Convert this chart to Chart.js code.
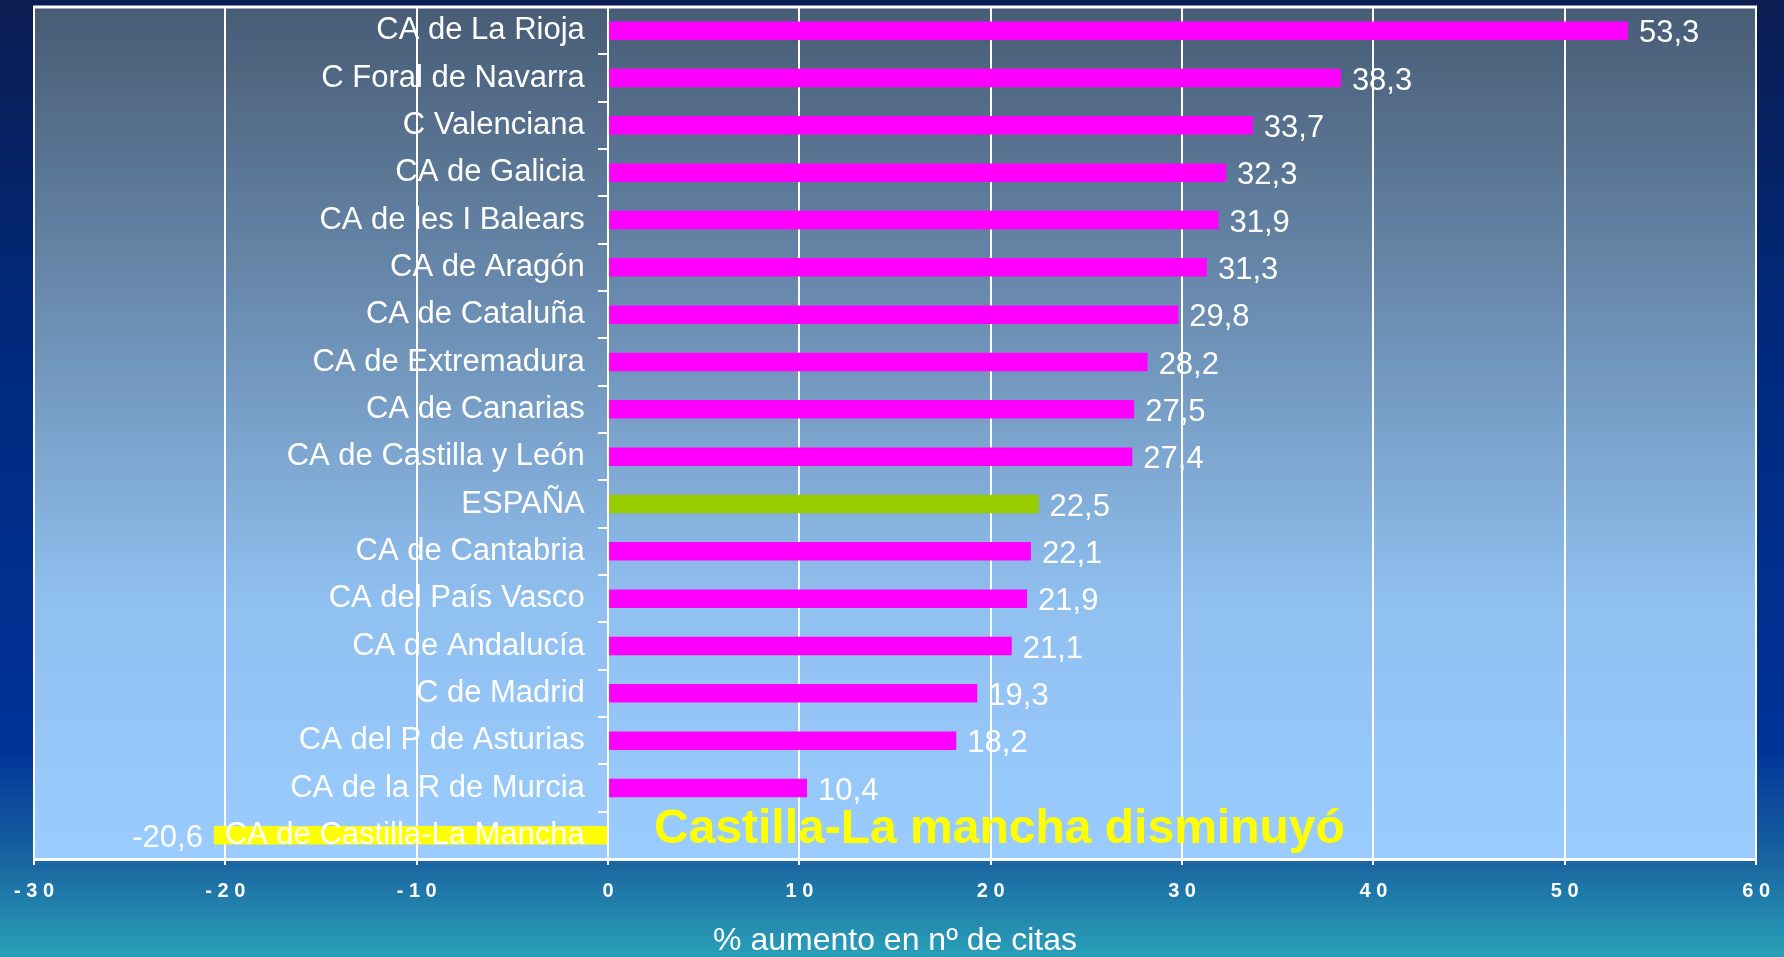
<!DOCTYPE html>
<html>
<head>
<meta charset="utf-8">
<script src="https://cdn.jsdelivr.net/npm/chart.js@4"></script>
<style>
  html, body { margin: 0; padding: 0; background: #0a1f5c; }
  #wrap { width: 1784px; height: 957px; position: relative; }
</style>
</head>
<body>
<div id="wrap"><canvas id="citasChart"></canvas></div>
<script>
/* ======================
   DATA
====================== */

const regiones = [
  "CA de La Rioja",
  "C Foral de Navarra",
  "C Valenciana",
  "CA de Galicia",
  "CA de les I Balears",
  "CA de Aragón",
  "CA de Cataluña",
  "CA de Extremadura",
  "CA de Canarias",
  "CA de Castilla y León",
  "ESPAÑA",
  "CA de Cantabria",
  "CA del País Vasco",
  "CA de Andalucía",
  "C de Madrid",
  "CA del P de Asturias",
  "CA de la R de Murcia",
  "CA de Castilla-La Mancha"
];

const aumento = [53.3, 38.3, 33.7, 32.3, 31.9, 31.3, 29.8, 28.2, 27.5, 27.4,
                 22.5, 22.1, 21.9, 21.1, 19.3, 18.2, 10.4, -20.6];

const colores = ["#ff00ff", "#ff00ff", "#ff00ff", "#ff00ff", "#ff00ff", "#ff00ff",
                 "#ff00ff", "#ff00ff", "#ff00ff", "#ff00ff", "#99cc00", "#ff00ff",
                 "#ff00ff", "#ff00ff", "#ff00ff", "#ff00ff", "#ff00ff", "#ffff00"];

const xMin = -30, xMax = 60, xStep = 10;
const tituloX = "% aumento en nº de citas";
const nota = "Castilla-La mancha disminuyó";

const FONT = "'Liberation Sans', Arial, sans-serif";

/* ======================
   PLUGINS
====================== */

const fondo = {
  id: "fondo",
  beforeDraw(chart) {
    const { ctx, width, height, chartArea: a } = chart;
    ctx.save();
    const g = ctx.createLinearGradient(0, 0, 0, height);
    g.addColorStop(0, "#0b1d52");
    g.addColorStop(0.35, "#00297c");
    g.addColorStop(0.78, "#003399");
    g.addColorStop(0.9, "#1a65a1");
    g.addColorStop(1, "#29a0b8");
    ctx.fillStyle = g;
    ctx.fillRect(0, 0, width, height);

    const p = ctx.createLinearGradient(0, a.top, 0, a.bottom);
    p.addColorStop(0, "#485c75");
    p.addColorStop(0.35, "#6a8cb0");
    p.addColorStop(0.7, "#90c0f0");
    p.addColorStop(1, "#9accff");
    ctx.fillStyle = p;
    ctx.fillRect(a.left, a.top, a.right - a.left, a.bottom - a.top);
    ctx.restore();
  },
  beforeDatasetsDraw(chart) {
    const { ctx, chartArea: a } = chart;
    ctx.save();
    ctx.strokeStyle = "#ffffff";
    ctx.lineWidth = 3;
    ctx.beginPath();
    ctx.moveTo(a.left - 1, a.top);
    ctx.lineTo(a.right + 1, a.top);
    ctx.stroke();
    ctx.restore();
  }
};

const etiquetas = {
  id: "etiquetas",
  afterDraw(chart) {
    const { ctx } = chart;
    const meta = chart.getDatasetMeta(0);
    ctx.save();
    ctx.fillStyle = "#ffffff";
    ctx.font = "31px " + FONT;
    ctx.textBaseline = "middle";
    meta.data.forEach((bar, i) => {
      const v = aumento[i];
      const txt = v.toFixed(1).replace(".", ",");
      if (v >= 0) {
        ctx.textAlign = "left";
        ctx.fillText(txt, bar.x + 11, bar.y + 3);
      } else {
        ctx.textAlign = "right";
        ctx.fillText(txt, bar.x - 11, bar.y + 3);
      }
    });

    // nota amarilla
    const xs = chart.scales.x, ys = chart.scales.y;
    ctx.fillStyle = "#ffff00";
    ctx.font = "bold 48px " + FONT;
    ctx.textAlign = "left";
    ctx.textBaseline = "alphabetic";
    ctx.fillText(nota, xs.getPixelForValue(2.4), ys.getPixelForValue(regiones.length - 1) + 8);
    ctx.restore();
  }
};

/* ======================
   BAR CHART
====================== */

const ctx1 = document.getElementById("citasChart").getContext("2d");

new Chart(ctx1, {
  type: "bar",
  data: {
    labels: regiones,
    datasets: [{
      data: aumento,
      backgroundColor: colores,
      borderWidth: 0,
      categoryPercentage: 1,
      barPercentage: 0.39
    }]
  },
  options: {
    indexAxis: "y",
    responsive: true,
    maintainAspectRatio: false,
    animation: false,
    devicePixelRatio: 1,
    layout: { padding: { left: 32, right: 22, top: 7, bottom: 0 } },
    plugins: {
      legend: { display: false },
      tooltip: { enabled: false }
    },
    scales: {
      x: {
        min: xMin,
        max: xMax,
        afterFit: s => { s.height = 98; },
        ticks: {
          stepSize: xStep,
          color: "#ffffff",
          font: { family: FONT, size: 20, weight: "bold" },
          padding: 14,
          maxRotation: 0,
          callback: v => String(v).split("").join(" ")
        },
        grid: { color: "#ffffff", lineWidth: 2, tickLength: 6 },
        border: { color: "#ffffff", width: 3 },
        title: {
          display: true,
          text: tituloX,
          color: "#ffffff",
          font: { family: FONT, size: 32, lineHeight: 1 },
          padding: { top: 0, bottom: 0 }
        }
      },
      y: {
        axis: "y",
        position: { x: 0 },
        afterFit: s => {
          s.width = 0;
          s.paddingTop = 0;
          s.paddingBottom = 0;
        },
        grid: { drawOnChartArea: false, color: "#ffffff", lineWidth: 2, tickLength: 9, offset: true },
        border: { color: "#ffffff", width: 2 },
        ticks: {
          z: 1,
          autoSkip: false,
          color: "#ffffff",
          font: { family: FONT, size: 31 },
          padding: 0,
          // hueco entre el texto y la línea del cero
          callback: (v, i) => regiones[i] + "\u2002\u2005"
        }
      }
    }
  },
  plugins: [fondo, etiquetas]
});
</script>
</body>
</html>
